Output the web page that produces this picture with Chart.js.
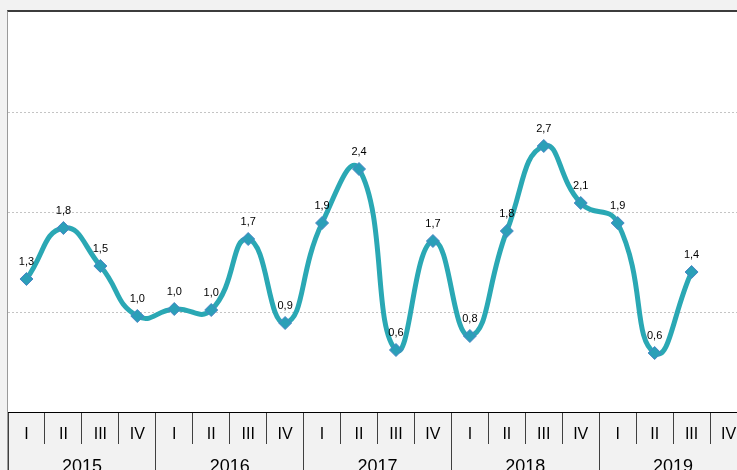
<!DOCTYPE html>
<html>
<head>
<meta charset="utf-8">
<script src="https://cdn.jsdelivr.net/npm/chart.js@4/dist/chart.umd.min.js"></script>
<style>
  html, body { margin: 0; padding: 0; background: #f2f2f2; overflow: hidden; width: 737px; height: 470px; }
  #frame {
    position: absolute; left: 7px; top: 10px;
    width: 739px; height: 464px;
    border-top: 2px solid #3c3c3c;
    border-left: 1px solid #9a9a9a;
  }
  #chart { display: block; }
</style>
</head>
<body>
<div id="frame"><canvas id="chart" width="739" height="464"></canvas></div>
<script>
// quarters along the bottom, years in the second row
const quarters = ['I', 'II', 'III', 'IV', 'I', 'II', 'III', 'IV', 'I', 'II', 'III', 'IV',
                  'I', 'II', 'III', 'IV', 'I', 'II', 'III', 'IV'];
const years = ['2015', '2016', '2017', '2018', '2019'];

// values (labels show them rounded to one decimal)
const values = [1.33, 1.84, 1.46, 0.96, 1.03, 1.02, 1.73, 0.89, 1.89, 2.43,
                0.62, 1.71, 0.76, 1.81, 2.66, 2.09, 1.89, 0.59, 1.40];

const yMin = 0;
const yMax = 4;

// white plot area, grey band under the axis
const plotBackground = {
  id: 'plotBackground',
  beforeDraw(chart) {
    const { ctx, chartArea } = chart;
    ctx.save();
    ctx.fillStyle = '#ffffff';
    ctx.fillRect(chartArea.left, chartArea.top, chartArea.right - chartArea.left, chartArea.bottom - chartArea.top);
    ctx.restore();
  }
};

// value above each point, decimal comma
const valueLabels = {
  id: 'valueLabels',
  afterDatasetsDraw(chart) {
    const { ctx } = chart;
    const meta = chart.getDatasetMeta(0);
    ctx.save();
    ctx.font = '11px "Liberation Sans", Arial, sans-serif';
    ctx.fillStyle = '#000000';
    ctx.textAlign = 'center';
    ctx.textBaseline = 'middle';
    meta.data.forEach((pt, i) => {
      const txt = values[i].toFixed(1).replace('.', ',');
      ctx.fillText(txt, pt.x, pt.y - 17);
    });
    ctx.restore();
  }
};

const ctx = document.getElementById('chart');

new Chart(ctx, {
  type: 'line',
  data: {
    labels: quarters,
    datasets: [{
      data: values,
      borderColor: '#2aa8b4',
      borderWidth: 5,
      tension: 0.5,
      pointStyle: 'rectRot',
      pointRadius: 6.5,
      pointBackgroundColor: '#2b9fb8',
      pointBorderColor: '#4a86c5',
      pointBorderWidth: 1,
      fill: false
    }]
  },
  options: {
    responsive: false,
    animation: false,
    layout: { padding: 0, autoPadding: false },
    plugins: {
      legend: { display: false },
      tooltip: { enabled: false }
    },
    scales: {
      y: {
        min: yMin,
        max: yMax,
        ticks: { display: false, stepSize: 1 },
        border: { display: false, dash: [2, 2] },
        grid: {
          drawTicks: false,
          color: (c) => (c.tick && c.tick.value > yMin && c.tick.value < yMax) ? '#c4c4c4' : 'rgba(0,0,0,0)',
          lineWidth: 1
        },
        afterFit(scale) { scale.width = 0; }
      },
      x: {
        weight: 0,
        offset: true,
        border: { display: true, color: '#000000', width: 1 },
        grid: {
          offset: true,
          drawOnChartArea: false,
          tickLength: 32,
          color: '#404040'
        },
        ticks: {
          padding: -19,
          maxRotation: 0,
          autoSkip: false,
          color: '#000000',
          font: { family: '"Liberation Sans", Arial, sans-serif', size: 16 }
        },
        afterFit(scale) { scale.height = 32; }
      },
      x2: {
        type: 'category',
        labels: years,
        position: 'bottom',
        weight: 1,
        offset: true,
        border: { display: false },
        grid: {
          offset: true,
          drawOnChartArea: false,
          tickLength: 40,
          color: '#404040'
        },
        ticks: {
          padding: -28,
          maxRotation: 0,
          color: '#000000',
          font: { family: '"Liberation Sans", Arial, sans-serif', size: 18 }
        },
        afterFit(scale) { scale.height = 32; }
      }
    }
  },
  plugins: [plotBackground, valueLabels]
});
</script>
</body>
</html>
